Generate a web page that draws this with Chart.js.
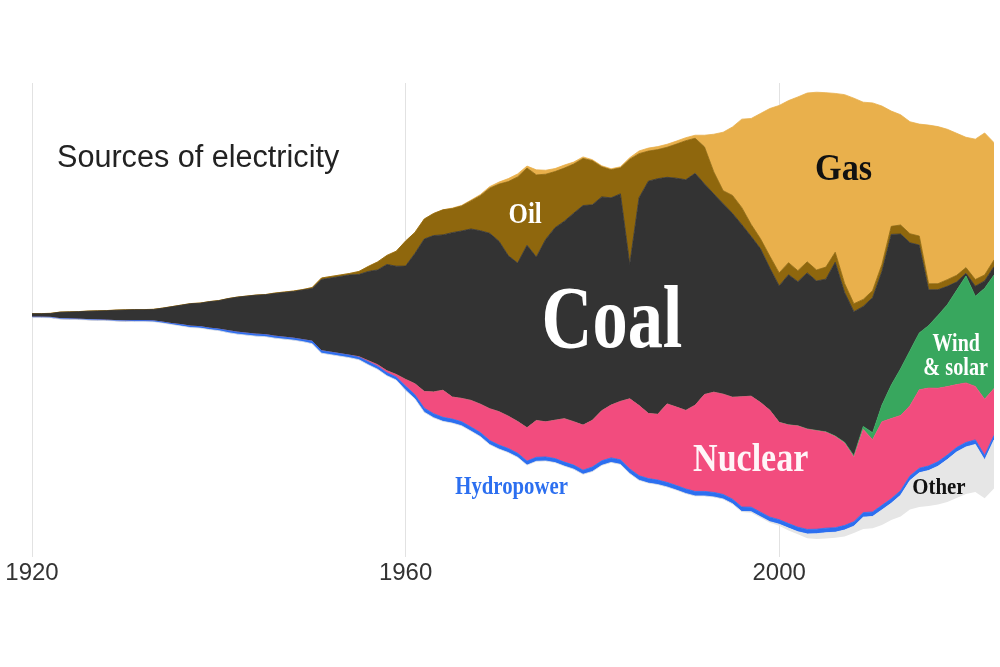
<!DOCTYPE html>
<html><head><meta charset="utf-8">
<script src="https://cdn.jsdelivr.net/npm/chart.js@4.4.1/dist/chart.umd.min.js"></script>
<style>html,body{margin:0;padding:0;background:#fff;}#wrap{width:1000px;height:667px;}</style>
</head><body><div id="wrap"><canvas id="c" width="1000" height="667"></canvas></div>
<script>
// Years 1920..2023
const years = Array.from({length: 104}, (_, i) => 1920 + i);
const tickYears = [1920, 1960, 2000];

// Stream thickness per source (arbitrary generation units)
const gas = [
 0,0,0,0,0,0,0,0,0,0,
 0,0,0,0,0,0,0,0,0,0,
 0,0,0,0,0,0,0,0,0,0,
 0,0,0,0,0,0,0,0,0,0,
 0,0,0,0,0,0.5,0.5,0.8,1,1.5,
 2,3,3,2,5,4,3,3,2,1.5,
 1,1,1,1,1.5,2.7,3,3,3,3,
 3,3,11.6,37.6,58.3,68.3,88.3,105.7,125,147.3,
 167,161.7,173.3,168.4,177.3,174,158.4,188.3,205,196.7,
 187.3,158,115,110,111.7,111.7,158.3,156.7,150,141.7,
 130,140,141.6,117];
const oil = [
 0.2,0.2,0.2,0.2,0.2,0.2,0.2,0.2,0.2,0.2,
 0.2,0.2,0.2,0.2,0.2,0.2,0.2,0.2,0.2,0.2,
 0.2,0.2,0.2,0.2,0.2,0.2,0.5,0.5,0.5,0.5,
 1,1.5,1.5,1.5,1.5,3,5,8,9,15,
 25,21,20,22,25,24,25,28,35,45,
 57,74,86,77,82,65,56,53,49,47,
 44,30,28,26,105,44,30,29,30,34,
 39,35,37,22,13,18,17,12,10,12,
 13,12,11,11,11,12,10,9,8,7,
 7,7,8,9,9,9,6,6,6.7,6.7,
 5.7,6.7,6,6.7];
const coal = [
 3.3,3.3,3.8,6.3,6.8,7.3,8.3,8.8,9.3,10.3,
 10.8,10.8,10.8,11.3,13.8,16.8,19.3,22.3,23.3,26.3,
 28.3,31.8,34.8,36.8,38.8,39.8,42.5,44.5,46.5,49.5,
 52.5,71,74,77,80,82,89,94.5,106,108,
 113,130,152,156,155,164,167,171,173,175,
 170,160,158,182,163,182,192,197,208,219,
 215,213.3,206.7,207,134,207.3,231.7,235,226,228.3,
 230,231.3,210,197.7,190,183.3,171.6,159.3,153.3,141.7,
 136,149.7,143.7,155.6,149,152.3,173.3,149.4,143.7,119.7,
 134.7,133.3,150.3,134.4,107.7,87.6,35.7,25.6,18.3,8.3,
 2.7,10,7.4,8.3];
const windSolar = [
 0,0,0,0,0,0,0,0,0,0,
 0,0,0,0,0,0,0,0,0,0,
 0,0,0,0,0,0,0,0,0,0,
 0,0,0,0,0,0,0,0,0,0,
 0,0,0,0,0,0,0,0,0,0,
 0,0,0,0,0,0,0,0,0,0,
 0,0,0,0,0,0,0,0,0,0,
 0,0,0,0,0,0,0,0,0,0,
 0.2,0.2,0.2,0.3,0.3,0.4,0.5,0.8,1.5,3,
 7,16.7,33.4,46.6,55,56.7,62.3,72.7,81.7,94,
 106.6,90,110.6,113.3];
const nuclear = [
 0,0,0,0,0,0,0,0,0,0,
 0,0,0,0,0,0,0,0,0,0,
 0,0,0,0,0,0,0,0,0,0,
 0,0,0,0,0,0.5,1,1.5,2,2.5,
 6.7,11,16.7,21.7,27,22,23.3,26.6,28.3,31.7,
 33.3,32.3,31.7,33.3,36.7,35,38.3,43.3,43.3,45,
 46.5,50,52.7,58.3,70,70,65,65.6,78.3,78.3,
 78.4,86,96.7,100,100,101.7,110,110.7,109.4,106.6,
 97,98.3,101,100,98.3,95.7,91,82.3,64.2,83,
 72,83.3,80,75,70,78.3,77.7,73.3,68.3,62.7,
 59.4,53.3,56,46.7];
const hydro = [
 0.5,0.5,0.5,0.5,0.5,0.5,0.5,0.5,0.5,0.5,
 0.5,1,1,1,1,1,1.5,1.5,1.5,1.5,
 1.5,2,2,2,2,2,2,2,2,2,
 2.5,2.5,2.5,2.5,2.5,2.5,3,3,3,3,
 4,4,4,4,4,4,4,4,4,4,
 4,4,4,4,4,4,4,4,4,4,
 4.5,4.5,4.5,4.5,4.5,4.5,4.5,4.5,4.5,4.5,
 4.5,4.5,4.5,4.5,4.5,4.5,4.5,4.5,4.5,4.5,
 4.5,4.5,4.5,4.5,4.5,4.5,4.5,4.5,4.5,4.5,
 4.5,4.5,4.5,4.5,4.5,4.5,4.5,4.5,4.5,4.5,
 4.5,4.5,4.5,4.5];
const other = [
 0,0,0,0,0,0,0,0,0,0,
 0,0,0,0,0,0,0,0,0,0,
 0,0,0,0,0,0,0,0,0,0,
 0,0,0,0,0,0,0,0,0,0,
 0,0,0,0,0,0,0,0,0,0,
 0,0,0,0,0,0,0,0,0,0,
 0,0,0,0,0,0,0,0,0,0,
 0,0,0,0,0,0.5,0.5,1,1,1,
 1.5,2.5,2.5,4.2,5.2,5.8,5.5,6.5,6.8,11.8,
 11.8,15.2,16.8,21.2,28.8,34.2,35.5,38.2,42.2,45.8,
 46.8,47.5,38.2,48.5];

// Layers, bottom to top
const layers = [
  {name: 'Other', data: other, color: '#e6e6e6'},
  {name: 'Hydropower', data: hydro, color: '#2c6ff0'},
  {name: 'Nuclear', data: nuclear, color: '#f24c7e'},
  {name: 'Wind & solar', data: windSolar, color: '#38a75e'},
  {name: 'Coal', data: coal, color: '#333333'},
  {name: 'Oil', data: oil, color: '#8f670d'},
  {name: 'Gas', data: gas, color: '#e9b04c'}
];

// Streamgraph: centre the stack on zero
const totals = years.map((_, i) => layers.reduce((s, l) => s + l.data[i], 0));
let running = totals.map(t => -t / 2);
const datasets = [{
  label: 'baseline', data: years.map((y, i) => ({x: y, y: running[i]})),
  borderWidth: 0, pointRadius: 0, fill: false
}];
layers.forEach(l => {
  running = running.map((v, i) => v + l.data[i]);
  datasets.push({
    label: l.name, data: years.map((y, i) => ({x: y, y: running[i]})),
    backgroundColor: l.color, borderColor: l.color, borderWidth: 0.8,
    pointRadius: 0, fill: '-1', tension: 0
  });
});

// Text labels placed in data coordinates (year, value)
const labelSpecs = [
  {text: 'Coal', year: 1982.1, val: -31, size: 88, color: '#ffffff', sx: 0.8},
  {text: 'Gas', year: 2006.9, val: 135, size: 38, color: '#111111', sx: 0.9},
  {text: 'Oil', year: 1972.8, val: 92.3, size: 30, color: '#ffffff', sx: 0.83},
  {text: 'Nuclear', year: 1996.95, val: -155, size: 40, color: '#fff5f8', sx: 0.85},
  {text: 'Hydropower', year: 1971.35, val: -178.3, size: 25, color: '#2c6ff0', sx: 0.83},
  {text: 'Other', year: 2017.1, val: -177.7, size: 24, color: '#111111', sx: 0.87},
  {text: 'Wind', year: 2018.95, val: -35, size: 25, color: '#ffffff', sx: 0.8},
  {text: '& solar', year: 2018.9, val: -59, size: 25, color: '#ffffff', sx: 0.81}
];

const labelPlugin = {
  id: 'streamLabels',
  afterDatasetsDraw(chart) {
    const ctx = chart.ctx, xs = chart.scales.x, ys = chart.scales.y;
    ctx.save();
    ctx.textAlign = 'center';
    ctx.textBaseline = 'alphabetic';
    labelSpecs.forEach(s => {
      ctx.save();
      ctx.translate(xs.getPixelForValue(s.year), ys.getPixelForValue(s.val));
      ctx.scale(s.sx, 1);
      ctx.font = 'bold ' + s.size + 'px "Liberation Serif", serif';
      ctx.fillStyle = s.color;
      ctx.fillText(s.text, 0, 0);
      ctx.restore();
    });
    ctx.font = '30.6px "Liberation Sans", Arial, sans-serif';
    ctx.fillStyle = '#222222';
    ctx.textAlign = 'left';
    ctx.fillText('Sources of electricity', 57, 167);
    ctx.restore();
  }
};

new Chart(document.getElementById('c'), {
  type: 'line',
  data: {datasets},
  options: {
    responsive: false, animation: false,
    layout: {padding: {left: 32, right: 6, top: 83, bottom: 77}},
    plugins: {legend: {display: false}, tooltip: {enabled: false}},
    elements: {line: {tension: 0}},
    scales: {
      x: {
        type: 'linear', min: 1920, max: 2023,
        afterBuildTicks: s => { s.ticks = tickYears.map(v => ({value: v})); },
        grid: {color: '#e2e2e2', lineWidth: 1, drawTicks: false},
        border: {display: false},
        ticks: {font: {family: 'Liberation Sans', size: 24}, color: '#333333', padding: 2,
                maxRotation: 0, autoSkip: false, callback: v => String(v)}
      },
      y: {display: false, min: -241, max: 232, grid: {display: false}}
    }
  },
  plugins: [labelPlugin]
});
</script></body></html>
